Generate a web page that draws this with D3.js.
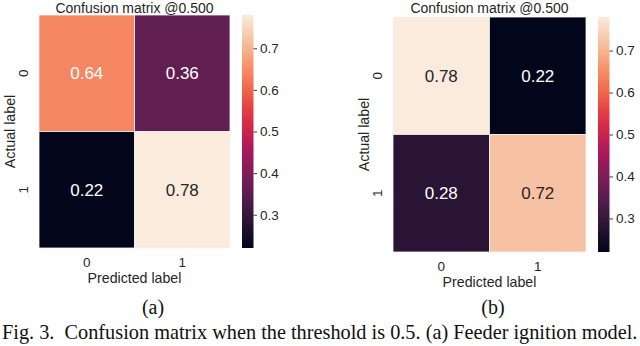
<!DOCTYPE html>
<html>
<head>
<meta charset="utf-8">
<script src="https://cdn.jsdelivr.net/npm/d3@7"></script>
<style>
    body { margin: 0; background: #fff; }
    svg { display: block; }
    .sans { font-family: "Liberation Sans", Arial, Helvetica, sans-serif; }
    .serif { font-family: "Liberation Serif", "Times New Roman", Times, serif; }
</style>
</head>
<body>
<svg id="chart" width="640" height="346"></svg>
<script>
// data
const classLabels = ["0", "1"];
const matrixA = [[0.64, 0.36], [0.22, 0.78]];   // feeder ignition model
const matrixB = [[0.78, 0.22], [0.28, 0.72]];
const colorbarTicks = [0.3, 0.4, 0.5, 0.6, 0.7];
const titleText = "Confusion matrix @0.500";
const subCaptions = ["(a)", "(b)"];
const captionText = "Fig. 3.  Confusion matrix when the threshold is 0.5. (a) Feeder ignition model.";

// seaborn "rocket" colormap, sampled stops
const rocketStops = ["#03051a", "#35193e", "#701f57", "#ad1759", "#e13342", "#f37651", "#f6b48f", "#faebdd"];
const rocket = d3.scaleLinear()
    .domain(rocketStops.map((c, i) => i / (rocketStops.length - 1)))
    .range(rocketStops)
    .interpolate(d3.interpolateRgb);

const textDark = "#262626";

const svg = d3.select("#chart");

// panel placement (heatmap box in px)
const panels = [
    {matrix: matrixA, sub: subCaptions[0], x0: 39, x1: 230, y0: 15, y1: 248, subX: 153},
    {matrix: matrixB, sub: subCaptions[1], x0: 393, x1: 586, y0: 17, y1: 252, subX: 493}
];

function luminance(c) {
    const rgb = d3.rgb(c);
    const f = v => {
        v = v / 255;
        return v <= 0.03928 ? v / 12.92 : Math.pow((v + 0.055) / 1.055, 2.4);
    };
    return 0.2126 * f(rgb.r) + 0.7152 * f(rgb.g) + 0.0722 * f(rgb.b);
}

panels.forEach((p, pi) => {
    const g = svg.append("g").attr("class", "sans");

    const cells = [];
    p.matrix.forEach((row, r) => row.forEach((v, c) => cells.push({row: classLabels[r], col: classLabels[c], value: v})));

    const extent = d3.extent(cells, d => d.value);
    const norm = d3.scaleLinear().domain(extent).range([0, 1]).clamp(true);
    const color = v => rocket(norm(v));

    const x = d3.scaleBand().domain(classLabels).range([p.x0, p.x1]);
    const y = d3.scaleBand().domain(classLabels).range([p.y0, p.y1]);

    g.selectAll("rect.cell")
        .data(cells)
        .join("rect")
        .attr("class", "cell")
        .attr("x", d => x(d.col))
        .attr("y", d => y(d.row))
        .attr("width", x.bandwidth())
        .attr("height", y.bandwidth())
        .attr("fill", d => color(d.value))
        .attr("stroke", "#f4f4f4")
        .attr("stroke-width", 0.8);

    g.selectAll("text.annot")
        .data(cells)
        .join("text")
        .attr("class", "annot")
        .attr("x", d => x(d.col) + x.bandwidth() / 2)
        .attr("y", d => y(d.row) + y.bandwidth() / 2)
        .attr("dy", "0.35em")
        .attr("text-anchor", "middle")
        .attr("font-size", "17px")
        .attr("fill", d => luminance(color(d.value)) > 0.408 ? textDark : "#fff")
        .text(d => d.value.toFixed(2));

    // title (sits right at the top edge, as in the figure)
    g.append("text")
        .attr("x", (p.x0 + p.x1) / 2)
        .attr("y", Math.max(p.y0 - 4, 12.5))
        .attr("text-anchor", "middle")
        .attr("font-size", "14px")
        .attr("fill", textDark)
        .text(titleText);

    // y tick labels, rotated
    g.selectAll("text.ytick")
        .data(classLabels)
        .join("text")
        .attr("class", "ytick")
        .attr("transform", d => `translate(${p.x0 - 11.5},${y(d) + y.bandwidth() / 2}) rotate(-90)`)
        .attr("text-anchor", "middle")
        .attr("font-size", "13.5px")
        .attr("fill", textDark)
        .text(d => d);

    g.append("text")
        .attr("transform", `translate(${p.x0 - 24},${(p.y0 + p.y1) / 2}) rotate(-90)`)
        .attr("text-anchor", "middle")
        .attr("font-size", "14.2px")
        .attr("fill", textDark)
        .text("Actual label");

    // x tick labels
    g.selectAll("text.xtick")
        .data(classLabels)
        .join("text")
        .attr("class", "xtick")
        .attr("x", d => x(d) + x.bandwidth() / 2)
        .attr("y", p.y1 + 18.5)
        .attr("text-anchor", "middle")
        .attr("font-size", "13.5px")
        .attr("fill", textDark)
        .text(d => d);

    g.append("text")
        .attr("x", (p.x0 + p.x1) / 2)
        .attr("y", p.y1 + 35)
        .attr("text-anchor", "middle")
        .attr("font-size", "14.2px")
        .attr("fill", textDark)
        .text("Predicted label");

    // colorbar
    const cbX = p.x1 + 12, cbW = 11.5;
    const gradId = "cbar" + pi;
    const grad = svg.append("defs").append("linearGradient")
        .attr("id", gradId)
        .attr("x1", 0).attr("y1", 1).attr("x2", 0).attr("y2", 0);
    d3.range(0, 1.0001, 0.05).forEach(t => {
        grad.append("stop").attr("offset", t).attr("stop-color", rocket(t));
    });
    g.append("rect")
        .attr("x", cbX)
        .attr("y", p.y0)
        .attr("width", cbW)
        .attr("height", p.y1 - p.y0)
        .attr("fill", `url(#${gradId})`);

    const cbScale = d3.scaleLinear().domain(extent).range([p.y1, p.y0]);
    const cbAxis = g.append("g")
        .attr("transform", `translate(${cbX + cbW},0)`)
        .call(d3.axisRight(cbScale).tickValues(colorbarTicks).tickFormat(d3.format(".1f")).tickSize(3.5).tickPadding(3));
    cbAxis.select(".domain").remove();
    cbAxis.selectAll(".tick line").attr("stroke", textDark).attr("stroke-width", 0.9);
    cbAxis.selectAll(".tick text")
        .attr("font-family", null)
        .attr("font-size", "13.5px")
        .attr("fill", textDark);

    // sub caption
    svg.append("text")
        .attr("class", "serif")
        .attr("x", p.subX)
        .attr("y", 314)
        .attr("text-anchor", "middle")
        .attr("font-size", "20px")
        .attr("fill", "#111")
        .text(p.sub);
});

svg.append("text")
    .attr("class", "serif")
    .attr("x", 2)
    .attr("y", 339)
    .attr("font-size", "20.3px")
    .attr("fill", "#111")
    .style("white-space", "pre")
    .text(captionText);
</script>
</body>
</html>
